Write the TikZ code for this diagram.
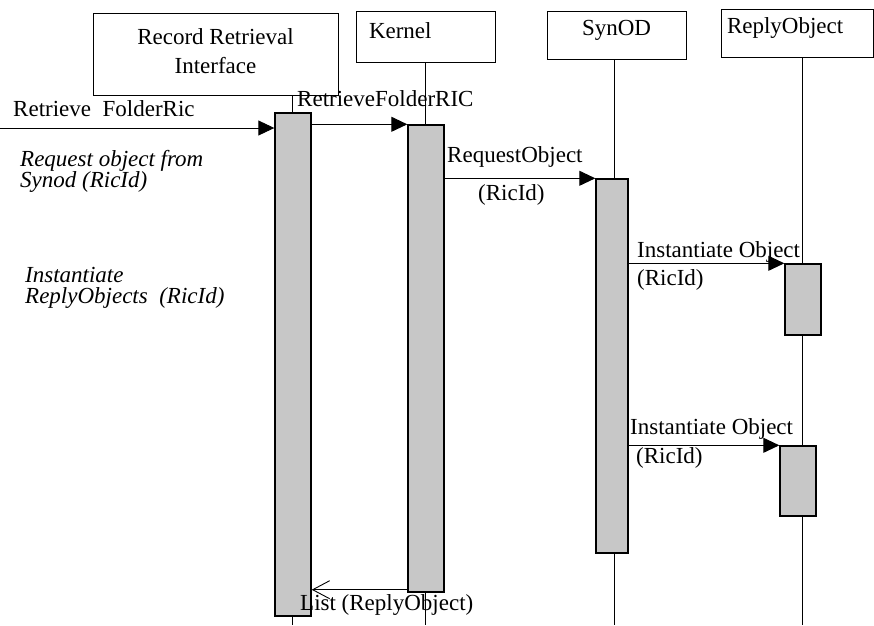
\documentclass[tikz,border=0pt]{standalone}
\usepackage{fontspec}
\setmainfont{Liberation Serif}
\usetikzlibrary{arrows.meta}

\begin{document}
\begin{tikzpicture}[x=1pt,y=-1pt,
	obj/.style={draw, line width=0.8pt, inner ysep=0pt, text depth=15pt, font=\fontsize{23}{29}\selectfont},
	act/.style={draw, line width=1.4pt, fill=black!22, inner sep=0pt},
	life/.style={line width=0.9pt},
	msg/.style={line width=0.9pt, -{Triangle[length=16pt,width=15pt]}},
	ret/.style={line width=0.9pt, -{Straight Barb[length=17pt,width=18pt]}},
	lbl/.style={anchor=base west, inner sep=0pt, font=\fontsize{23}{21}\selectfont},
	note/.style={lbl, align=left, font=\fontsize{23}{21}\selectfont\itshape}]
	\useasboundingbox (0,0) rectangle (874,625);
	% objects across the top
	\node[obj, minimum width=245pt, minimum height=82pt, align=center, text depth=5pt] (rri) at (215.5,54) {Record Retrieval\\Interface};
	\node[obj, minimum width=139pt, minimum height=51pt, inner xsep=13pt, text width=113pt, align=left, text depth=11pt] (kernel) at (425.5,36.5) {Kernel};
	\node[obj, minimum width=139pt, minimum height=48pt] (synod) at (616.5,35) {SynOD};
	\node[obj, minimum width=152pt, minimum height=48pt, inner xsep=6pt, text width=140pt, align=left] (reply) at (797,33) {ReplyObject};
	% lifelines, bottom ends
	\coordinate (rribot) at (292,625);
	\coordinate (kernbot) at (425,625);
	\coordinate (synbot) at (614,625);
	\coordinate (repbot) at (802,625);
	\draw[life] (rri.south -| rribot) -- (rribot);
	\draw[life] (kernel.south -| kernbot) -- (kernbot);
	\draw[life] (synod.south -| synbot) -- (synbot);
	\draw[life] (reply.south -| repbot) -- (repbot);
	% activations
	\node[act, minimum width=36pt, minimum height=503pt] (rriact) at (293,364.5) {};
	\node[act, minimum width=36pt, minimum height=467pt] (kernact) at (426,358.5) {};
	\node[act, minimum width=32pt, minimum height=374pt] (synact) at (612,366) {};
	\node[act, minimum width=36pt, minimum height=71pt] (repact1) at (803,299.5) {};
	\node[act, minimum width=36pt, minimum height=70pt] (repact2) at (798,481) {};
	% messages
	\coordinate (start) at (0,128);
	\draw[msg] (start) -- (rriact.west |- start);
	\draw[msg] (rriact.east |- kernact.north) -- (kernact.north west);
	\draw[msg] (kernact.east |- synact.north) -- (synact.north west);
	\draw[msg] (synact.east |- repact1.north) -- (repact1.north west);
	\draw[msg] (synact.east |- repact2.north) -- (repact2.north west);
	\coordinate (back) at ([yshift=3pt]kernact.south west);
	\draw[ret] (back) -- (rriact.east |- back);
	% labels (notes are placed by their last line)
	\node[lbl] (m1) at (13,116) {Retrieve\ \ FolderRic};
	\node[lbl] (m2) at (297,106) {RetrieveFolderRIC};
	\node[lbl] (m3) at (447,162) {RequestObject};
	\node[lbl] (m3b) at (478,200) {(RicId)};
	\node[lbl] (m4) at (637,257) {Instantiate Object};
	\node[lbl] (m4b) at (637,285) {(RicId)};
	\node[lbl] (m5) at (630,434) {Instantiate Object};
	\node[lbl] (m5b) at (636,463) {(RicId)};
	\node[lbl] (m6) at (300,610) {List (ReplyObject)};
	\node[note] (n1) at (20,187) {Request object from\\Synod (RicId)};
	\node[note] (n2) at (25,303) {Instantiate\\ReplyObjects\ \ (RicId)};
\end{tikzpicture}
\end{document}
